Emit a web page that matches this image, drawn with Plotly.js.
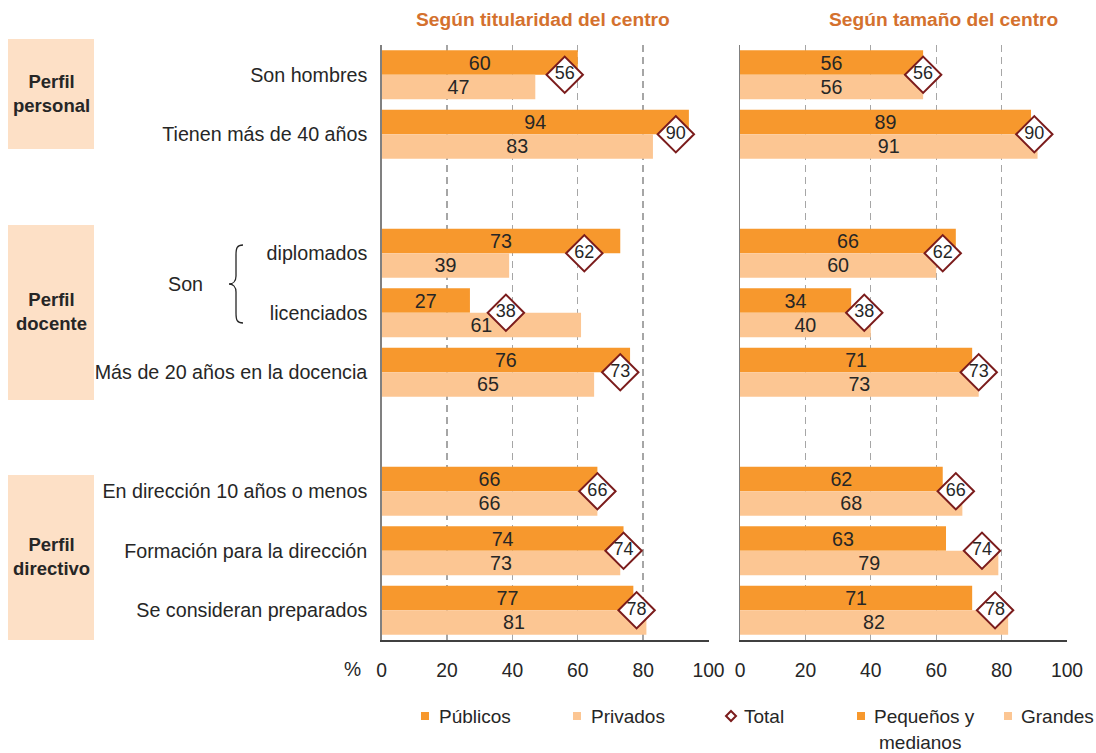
<!DOCTYPE html>
<html>
<head>
<meta charset="utf-8">
<script src="https://cdn.plot.ly/plotly-3.0.1.min.js"></script>
<style>html,body{margin:0;padding:0;background:#fff;}#chart{width:1096px;height:753px;}</style>
</head>
<body>
<div id="chart"></div>
<script>
// ---------- data ----------
const groupNames = ['Perfil<br>personal', 'Perfil<br>docente', 'Perfil<br>directivo'];
const groupSizes = [2, 3, 3];
const categories = ['Son hombres', 'Tienen más de 40 años', 'diplomados', 'licenciados',
  'Más de 20 años en la docencia', 'En dirección 10 años o menos',
  'Formación para la dirección', 'Se consideran preparados'];
const publicos  = [60, 94, 73, 27, 76, 66, 74, 77];
const privados  = [47, 83, 39, 61, 65, 66, 73, 81];
const totalTit  = [56, 90, 62, 38, 73, 66, 74, 78];
const pequenos  = [56, 89, 66, 34, 71, 62, 63, 71];
const grandes   = [56, 91, 60, 40, 73, 68, 79, 82];
const totalTam  = [56, 90, 62, 38, 73, 66, 74, 78];
const xTicks = [0, 20, 40, 60, 80, 100];
const panelTitles = ['Según titularidad del centro', 'Según tamaño del centro'];
const legendLabels = ['Públicos', 'Privados', 'Total', 'Pequeños y<br>medianos', 'Grandes'];

// ---------- styles ----------
const W = 1096, H = 753;
const DARK = '#f7982d', LIGHT = '#fcc693', PEACH = '#fde0c6', DIAM = '#7b1c1c';
const TXT = '#262626', TITLE = '#d4712e';
const FONT = 'Liberation Sans, Arial, sans-serif';
const FS = 19.7;
const px = x => x / W;
const py = y => 1 - y / H;

// row positions with one-row gap between groups
const pos = [];
let p = 0;
groupSizes.forEach(n => { for (let i = 0; i < n; i++) pos.push(p++); p++; });

function barTrace(vals, color, xa, ya, top) {
  return {
    type: 'bar', orientation: 'h', x: vals, y: pos, xaxis: xa, yaxis: ya,
    width: 0.41, offset: top ? -0.41 : 0,
    marker: {color: color, line: {width: 0}},
    text: vals.map(String), textposition: 'inside', insidetextanchor: 'middle',
    textangle: 0, constraintext: 'none',
    textfont: {family: FONT, size: FS, color: TXT},
    hoverinfo: 'skip', showlegend: false
  };
}
function totalTrace(vals, xa, ya) {
  return {
    type: 'scatter', mode: 'markers+text', x: vals, y: pos, xaxis: xa, yaxis: ya,
    text: vals.map(String), textposition: 'middle center',
    textfont: {family: FONT, size: 18, color: TXT},
    marker: {symbol: 'diamond', size: 28, color: '#ffffff', line: {color: DIAM, width: 2}},
    cliponaxis: false, hoverinfo: 'skip', showlegend: false
  };
}

const data = [
  barTrace(publicos, DARK, 'x', 'y', true),
  barTrace(privados, LIGHT, 'x', 'y', false),
  totalTrace(totalTit, 'x', 'y'),
  barTrace(pequenos, DARK, 'x2', 'y2', true),
  barTrace(grandes, LIGHT, 'x2', 'y2', false),
  totalTrace(totalTam, 'x2', 'y2')
];

const yDom = [py(640), py(45)];
function xAx(dom, anchor) {
  return {
    domain: dom, anchor: anchor, range: [0, 100], tickvals: xTicks,
    ticks: 'inside', ticklen: 5, tickcolor: '#a6a6a6', tickwidth: 1,
    showgrid: true, gridcolor: '#a6a6a6', gridwidth: 1.3, griddash: '7px,5px',
    showline: true, linecolor: '#404040', linewidth: 1.5, zeroline: false,
    tickfont: {family: FONT, size: 19.3, color: TXT}, ticklabelstandoff: 12,
    fixedrange: true
  };
}

const shapes = [];
const annotations = [];

// group boxes
const boxes = [[39, 149], [225, 400], [475, 640]];
boxes.forEach((b, i) => {
  shapes.push({type: 'rect', xref: 'paper', yref: 'paper', x0: px(8), x1: px(94), y0: py(b[1]), y1: py(b[0]),
    fillcolor: PEACH, line: {width: 0}, layer: 'below'});
  annotations.push({xref: 'paper', yref: 'paper', x: px(51), y: py((b[0] + b[1]) / 2 - 1),
    text: '<b>' + groupNames[i] + '</b>', showarrow: false, xanchor: 'center', yanchor: 'middle',
    font: {family: FONT, size: 18.5, color: TXT}});
});

// "Son" and brace
annotations.push({xref: 'paper', yref: 'paper', x: px(185), y: py(284), text: 'Son', showarrow: false,
  xanchor: 'center', yanchor: 'middle', font: {family: FONT, size: FS, color: TXT}});
const bp = (x, y) => px(x).toFixed(5) + ',' + py(y).toFixed(5);
const bracePath = 'M' + bp(243, 245) + ' C' + bp(237, 245) + ' ' + bp(236, 248) + ' ' + bp(236, 255) +
  ' L' + bp(236, 276) + ' C' + bp(236, 281) + ' ' + bp(233, 284) + ' ' + bp(229, 284) +
  ' C' + bp(233, 284) + ' ' + bp(236, 287) + ' ' + bp(236, 292) +
  ' L' + bp(236, 313) + ' C' + bp(236, 320) + ' ' + bp(237, 323) + ' ' + bp(243, 323);
shapes.push({type: 'path', xref: 'paper', yref: 'paper', path: bracePath, line: {color: TXT, width: 1.3}});

// panel titles
annotations.push({xref: 'paper', yref: 'paper', x: px(543), y: py(20), text: '<b>' + panelTitles[0] + '</b>',
  showarrow: false, xanchor: 'center', yanchor: 'middle', font: {family: FONT, size: 19.2, color: TITLE}});
annotations.push({xref: 'paper', yref: 'paper', x: px(944), y: py(20), text: '<b>' + panelTitles[1] + '</b>',
  showarrow: false, xanchor: 'center', yanchor: 'middle', font: {family: FONT, size: 19.2, color: TITLE}});

// % label
annotations.push({xref: 'paper', yref: 'paper', x: px(352), y: py(669), text: '%', showarrow: false,
  xanchor: 'center', yanchor: 'middle', font: {family: FONT, size: 19.3, color: TXT}});

// legend
const legY = 716;
const legItems = [
  {sx: 425, tx: 437, color: DARK, kind: 'sq'},
  {sx: 577, tx: 589, color: LIGHT, kind: 'sq'},
  {sx: 731, tx: 742, color: DIAM, kind: 'dia'},
  {sx: 861, tx: 872, color: DARK, kind: 'sq'},
  {sx: 1008, tx: 1019, color: LIGHT, kind: 'sq'}
];
legItems.forEach((it, i) => {
  if (it.kind === 'sq') {
    shapes.push({type: 'rect', xref: 'paper', yref: 'paper', x0: px(it.sx - 4), x1: px(it.sx + 4),
      y0: py(legY + 4), y1: py(legY - 4), fillcolor: it.color, line: {width: 0}});
  } else {
    const d = 'M' + bp(it.sx, legY - 5) + ' L' + bp(it.sx + 5, legY) + ' L' + bp(it.sx, legY + 5) +
      ' L' + bp(it.sx - 5, legY) + ' Z';
    shapes.push({type: 'path', xref: 'paper', yref: 'paper', path: d, fillcolor: '#ffffff',
      line: {color: it.color, width: 2}});
  }
  const parts = legendLabels[i].split('<br>');
  annotations.push({xref: 'paper', yref: 'paper', x: px(it.tx), y: py(legY), text: parts[0],
    showarrow: false, xanchor: 'left', yanchor: 'middle', font: {family: FONT, size: 19, color: TXT}});
  if (parts[1]) {
    annotations.push({xref: 'paper', yref: 'paper', x: px(it.tx + 5), y: py(legY + 26), text: parts[1],
      showarrow: false, xanchor: 'left', yanchor: 'middle', font: {family: FONT, size: 19, color: TXT}});
  }
});

const layout = {
  width: W, height: H, margin: {l: 0, r: 0, t: 0, b: 0},
  paper_bgcolor: '#ffffff', plot_bgcolor: 'rgba(0,0,0,0)',
  font: {family: FONT, size: 19, color: TXT},
  showlegend: false, barmode: 'overlay',
  uniformtext: {mode: 'show', minsize: FS},
  xaxis: xAx([px(381.7), px(708.5)], 'y'),
  xaxis2: xAx([px(740), px(1067)], 'y2'),
  yaxis: {
    domain: yDom, anchor: 'x', range: [9.5, -0.5], tickvals: pos, ticktext: categories,
    ticks: '', showgrid: false, zeroline: false, showline: true, linecolor: '#808080', linewidth: 1.5,
    tickfont: {family: FONT, size: FS, color: TXT}, ticklabelstandoff: 9, fixedrange: true
  },
  yaxis2: {
    domain: yDom, anchor: 'x2', range: [9.5, -0.5], tickvals: pos, showticklabels: false,
    ticks: '', showgrid: false, zeroline: false, showline: true, linecolor: '#808080', linewidth: 1.5,
    fixedrange: true
  },
  shapes: shapes,
  annotations: annotations
};

Plotly.newPlot('chart', data, layout, {displayModeBar: false, staticPlot: true});
</script>
</body>
</html>
